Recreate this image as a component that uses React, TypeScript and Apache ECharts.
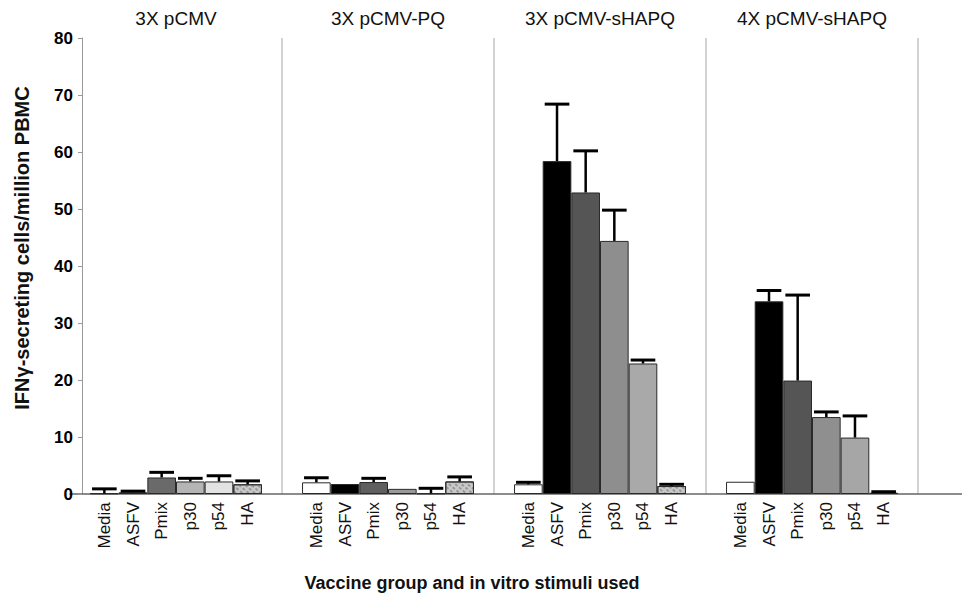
import React, { useEffect, useRef } from "react";
import * as echarts from "echarts";

// ---- data ----
const groups = ["3X pCMV", "3X pCMV-PQ", "3X pCMV-sHAPQ", "4X pCMV-sHAPQ"];
const stimuli = ["Media", "ASFV", "Pmix", "p30", "p54", "HA"];

// mean IFN-gamma secreting cells / million PBMC, one value per vaccine group
const mediaMean = [0.1, 2.05, 1.7, 2.15];
const asfvMean = [0.3, 1.75, 58.4, 33.8];
const pmixMean = [2.9, 2.1, 52.9, 19.9];
const p30Mean = [2.2, 0.9, 44.4, 13.5];
const p54Mean = [2.2, 0.1, 22.9, 9.9];
const haMean = [1.7, 2.2, 1.4, 0.2];

// upper error (SD), null = no error bar drawn
const mediaSd = [0.8, 0.8, 0.35, null];
const asfvSd = [0.2, null, 10.0, 1.9];
const pmixSd = [0.9, 0.65, 7.3, 15.0];
const p30Sd = [0.55, null, 5.4, 0.9];
const p54Sd = [1.0, 0.9, 0.6, 3.8];
const haSd = [0.6, 0.8, 0.3, 0.2];

const yTicks = { min: 0, max: 80, interval: 10 };

const means = [mediaMean, asfvMean, pmixMean, p30Mean, p54Mean, haMean];
const sds = [mediaSd, asfvSd, pmixSd, p30Sd, p54Sd, haSd];

// ---- styles ----
const FONT = "'Liberation Sans', Arial, Helvetica, sans-serif";
const fills = [
  ["#ffffff", "#ffffff", "#ffffff", "#ffffff"],
  ["#000000", "#000000", "#000000", "#000000"],
  ["#6a6a6a", "#5f5f5f", "#555555", "#555555"],
  ["#b5b5b5", "#9a9a9a", "#8e8e8e", "#8f8f8f"],
  ["#e3e3e3", "#bdbdbd", "#a9a9a9", "#a6a6a6"],
  ["#c9c9c9", "#c9c9c9", "#c9c9c9", "#c9c9c9"],
];
const CAT_GAP = 0.189;

export default function App() {
  const ref = useRef<HTMLDivElement>(null);

  useEffect(() => {
    if (!ref.current) return;
    const chart = echarts.init(ref.current, undefined, { renderer: "svg" });

    const barSeries = stimuli.map((name, si) => ({
      type: "bar",
      name,
      xAxisIndex: 0,
      barGap: "0%",
      barCategoryGap: CAT_GAP * 100 + "%",
      z: 2,
      data: means[si].map((v, gi) => ({
        value: v,
        itemStyle: { color: fills[si][gi] },
      })),
      itemStyle: {
        borderColor: "#2a2a2a",
        borderWidth: 1,
        ...(name === "HA"
          ? {
              decal: {
                symbol: "rect",
                symbolSize: 1,
                color: "rgba(120,120,120,0.6)",
                dashArrayX: [3, 2],
                dashArrayY: [2, 2],
                rotation: 0.7,
              },
            }
          : {}),
      },
      label: {
        show: true,
        position: "bottom",
        distance: 8,
        rotate: 90,
        align: "right",
        verticalAlign: "middle",
        formatter: name,
        fontSize: 17,
        fontFamily: FONT,
        color: "#111",
      },
    }));

    const errSeries = stimuli.map((name, si) => ({
      type: "custom",
      name: name + " SD",
      xAxisIndex: 0,
      z: 5,
      clip: false,
      data: means[si]
        .map((v, gi) => [gi, v, sds[si][gi]])
        .filter((d) => d[2] !== null),
      renderItem: (params: any, api: any) => {
        const gi = api.value(0);
        const mean = api.value(1);
        const sd = api.value(2);
        const base = api.coord([gi, mean]);
        const top = api.coord([gi, mean + sd]);
        const band = api.size([1, 0])[0];
        const bw = (band * (1 - CAT_GAP)) / stimuli.length;
        const cx = base[0] + (si - (stimuli.length - 1) / 2) * bw;
        const half = bw * 0.43;
        return {
          type: "group",
          children: [
            {
              type: "line",
              shape: { x1: cx, y1: base[1], x2: cx, y2: top[1] },
              style: { stroke: "#000", lineWidth: 2.5 },
            },
            {
              type: "line",
              shape: { x1: cx - half, y1: top[1], x2: cx + half, y2: top[1] },
              style: { stroke: "#000", lineWidth: 3 },
            },
          ],
        };
      },
    }));

    chart.setOption({
      animation: false,
      textStyle: { fontFamily: FONT },
      grid: { left: 70, right: 44, top: 38, bottom: 102, containLabel: false },
      xAxis: [
        {
          type: "category",
          data: groups,
          position: "bottom",
          axisLine: { show: true, lineStyle: { color: "#666", width: 1.5 } },
          axisTick: { show: false },
          axisLabel: { show: false },
          splitLine: { show: false },
        },
        {
          type: "category",
          data: groups,
          position: "top",
          axisLine: { show: false },
          axisTick: { show: false },
          axisLabel: {
            show: true,
            fontSize: 19,
            color: "#111",
            margin: 10,
            fontFamily: FONT,
          },
          splitLine: {
            show: true,
            showMinLine: false,
            showMaxLine: true,
            lineStyle: { color: "#c4c4c4", width: 1.5 },
          },
        },
      ],
      yAxis: {
        type: "value",
        min: yTicks.min,
        max: yTicks.max,
        interval: yTicks.interval,
        offset: -12,
        axisLine: { show: true, lineStyle: { color: "#999", width: 1 } },
        axisTick: { show: true, length: 4, lineStyle: { color: "#999" } },
        axisLabel: {
          fontSize: 17,
          fontWeight: "bold",
          color: "#000",
          margin: 9,
          fontFamily: FONT,
        },
        splitLine: { show: false },
      },
      graphic: [
        {
          type: "line",
          shape: { x1: 918, y1: 494, x2: 962, y2: 494 },
          style: { stroke: "#666", lineWidth: 1.5 },
          silent: true,
        },
        {
          type: "text",
          x: 22,
          y: 248,
          rotation: Math.PI / 2,
          style: {
            text: "IFNγ-secreting cells/million PBMC",
            fontSize: 20,
            fontWeight: "bold",
            fontFamily: FONT,
            fill: "#111",
            align: "center",
            verticalAlign: "middle",
          },
        },
        {
          type: "text",
          x: 472,
          y: 583,
          style: {
            text: "Vaccine group and in vitro stimuli used",
            fontSize: 18,
            fontWeight: "bold",
            fontFamily: FONT,
            fill: "#111",
            align: "center",
            verticalAlign: "middle",
          },
        },
      ],
      series: [...barSeries, ...errSeries],
    });

    return () => chart.dispose();
  }, []);

  return (
    <div
      ref={ref}
      style={{
        position: "fixed",
        left: 0,
        top: 0,
        width: 962,
        height: 596,
        background: "#fff",
      }}
    />
  );
}
